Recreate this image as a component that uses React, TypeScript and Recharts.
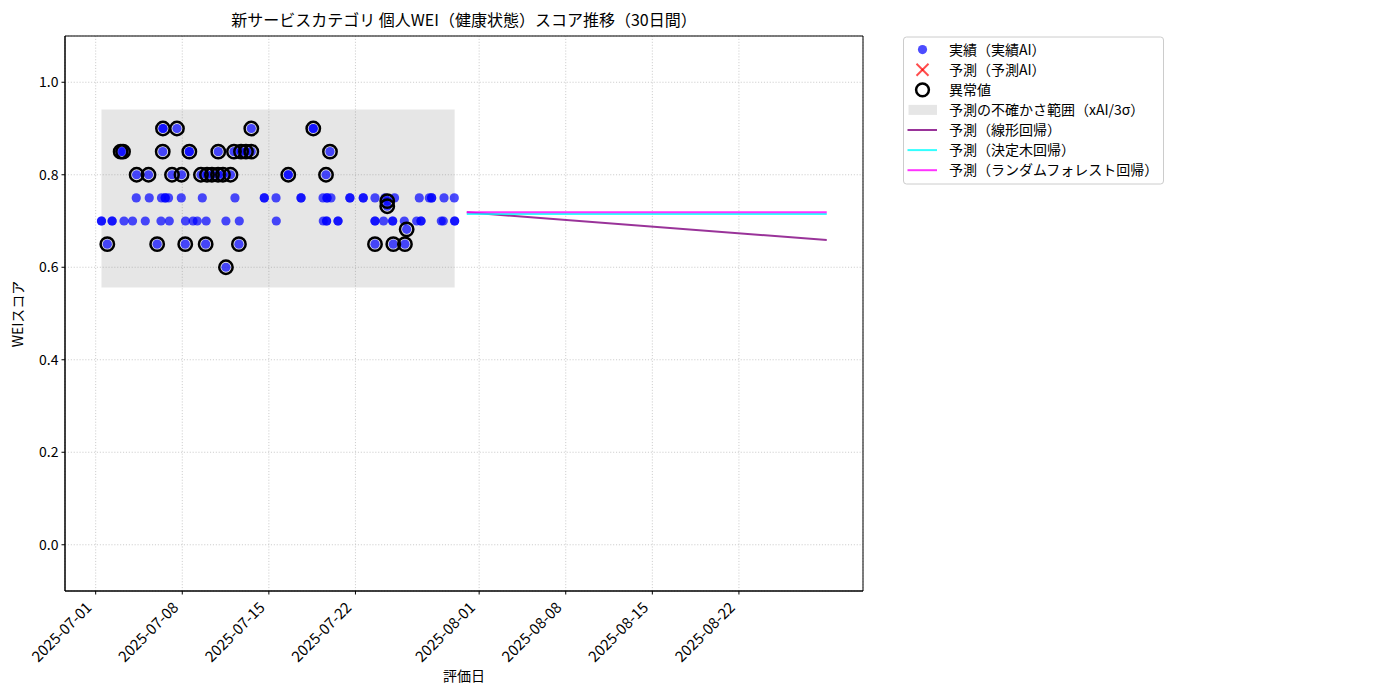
import { CartesianGrid, ComposedChart, Line, ReferenceArea, Scatter, XAxis, YAxis } from "recharts"

const FONT = '"Noto Sans CJK JP", "Noto Sans", sans-serif'

// [days since 2025-07-01, WEI score]; stacked points appear twice
const actual: [number, number][] = [
  [0.47, 0.7], [0.47, 0.7], [0.94, 0.65], [1.33, 0.7], [1.33, 0.7], [2.02, 0.85], [2.21, 0.85],
  [2.29, 0.7], [2.98, 0.7], [3.28, 0.75], [3.31, 0.8], [4.01, 0.7], [4.27, 0.8], [4.33, 0.75],
  [4.97, 0.65], [5.28, 0.7], [5.32, 0.75], [5.42, 0.85], [5.44, 0.9], [5.44, 0.9], [5.62, 0.75],
  [5.62, 0.75], [5.89, 0.75], [5.95, 0.7], [6.17, 0.8], [6.57, 0.9], [6.92, 0.75], [6.94, 0.8],
  [7.24, 0.65], [7.26, 0.7], [7.57, 0.85], [7.57, 0.85], [7.87, 0.7], [8.21, 0.7], [8.51, 0.8],
  [8.62, 0.75], [8.89, 0.65], [8.93, 0.7], [9.0, 0.8], [9.4, 0.8], [9.89, 0.8], [9.91, 0.85],
  [10.29, 0.8], [10.53, 0.6], [10.53, 0.7], [10.9, 0.8], [11.18, 0.85], [11.26, 0.75], [11.58, 0.65],
  [11.61, 0.7], [11.75, 0.85], [12.15, 0.85], [12.58, 0.85], [12.58, 0.9], [13.63, 0.75], [13.63, 0.75],
  [14.58, 0.75], [14.6, 0.7], [15.57, 0.8], [15.57, 0.8], [16.6, 0.75], [16.6, 0.75], [17.59, 0.9],
  [17.59, 0.9], [18.38, 0.75], [18.4, 0.7], [18.62, 0.8], [18.67, 0.7], [18.67, 0.7], [18.7, 0.75],
  [18.7, 0.75], [18.94, 0.85], [19.02, 0.75], [19.59, 0.7], [19.59, 0.7], [20.55, 0.75], [20.55, 0.75],
  [21.63, 0.75], [21.63, 0.75], [22.58, 0.65], [22.58, 0.7], [22.58, 0.7], [22.58, 0.75], [23.27, 0.7],
  [23.39, 0.75], [23.57, 0.743], [23.57, 0.732], [24.01, 0.7], [24.01, 0.7], [24.06, 0.65], [24.16, 0.75],
  [24.95, 0.7], [25.0, 0.65], [25.14, 0.682], [25.95, 0.7], [26.16, 0.75], [26.3, 0.7], [26.3, 0.7],
  [26.97, 0.75], [27.16, 0.75], [27.16, 0.75], [27.94, 0.7], [28.1, 0.7], [28.16, 0.75], [28.99, 0.75],
  [29.02, 0.7], [29.02, 0.7],
]

const outliers: [number, number][] = [
  [0.94, 0.65], [2.02, 0.85], [2.21, 0.85], [3.31, 0.8], [4.27, 0.8], [4.97, 0.65], [5.42, 0.85],
  [5.44, 0.9], [6.17, 0.8], [6.57, 0.9], [6.94, 0.8], [7.24, 0.65], [7.57, 0.85], [8.51, 0.8],
  [8.89, 0.65], [9.0, 0.8], [9.4, 0.8], [9.89, 0.8], [9.91, 0.85], [10.29, 0.8], [10.53, 0.6],
  [10.9, 0.8], [11.18, 0.85], [11.58, 0.65], [11.75, 0.85], [12.15, 0.85], [12.58, 0.85], [12.58, 0.9],
  [15.57, 0.8], [17.59, 0.9], [18.62, 0.8], [18.94, 0.85], [22.58, 0.65], [23.57, 0.743], [23.57, 0.732],
  [24.06, 0.65], [25.0, 0.65], [25.14, 0.682],
]

const forecastDays = [30, 59.1]
const linearForecast = [0.7187, 0.659]
const treeForecast = [0.715, 0.715]
const forestForecast = [0.719, 0.719]

// uncertainty band (xAI / 3σ)
const bandLower = 0.556
const bandUpper = 0.941

const xTickDays = [0, 7, 14, 21, 31, 38, 45, 52]
const xTickLabels = [
  "2025-07-01", "2025-07-08", "2025-07-15", "2025-07-22",
  "2025-08-01", "2025-08-08", "2025-08-15", "2025-08-22",
]
const yTicks = [0, 0.2, 0.4, 0.6, 0.8, 1.0]
const xDomain: [number, number] = [-2.48, 62.03]
const yDomain: [number, number] = [-0.1, 1.1]

const title = "新サービスカテゴリ 個人WEI（健康状態）スコア推移（30日間）"
const legendLabels = [
  "実績（実績AI）",
  "予測（予測AI）",
  "異常値",
  "予測の不確かさ範囲（xAI/3σ）",
  "予測（線形回帰）",
  "予測（決定木回帰）",
  "予測（ランダムフォレスト回帰）",
]

const toPoints = (pairs: [number, number][]) => pairs.map(([x, y]) => ({ x, y }))
const toLine = (values: number[]) => values.map((y, i) => ({ x: forecastDays[i], y }))

const actualDays = actual.map((p) => p[0])

const Dot = (props: any) => (
  <circle cx={props.cx} cy={props.cy} r={4.6} fill="#0000ff" fillOpacity={0.7} />
)

const Ring = (props: any) => (
  <circle cx={props.cx} cy={props.cy} r={6.7} fill="none" stroke="#000" strokeWidth={2.5} />
)

const XTick = (props: any) => {
  const { x, y, payload } = props
  const label = xTickLabels[xTickDays.indexOf(payload.value)]
  const tx = x - 3
  const ty = y + 12
  return (
    <text x={tx} y={ty} textAnchor="end" fontSize={15} fill="#000" fontFamily={FONT}
      transform={`rotate(-45, ${tx}, ${ty})`}>
      {label}
    </text>
  )
}

function Legend() {
  const left = 903.5
  const top = 37
  const rowY = (i: number) => 49.6 + i * 20.1
  const mx = 922.5
  return (
    <g>
      <rect x={left} y={top} width={260} height={147} rx={3} fill="#fff" fillOpacity={0.8} stroke="#cccccc" />
      <circle cx={mx} cy={rowY(0)} r={4.6} fill="#0000ff" fillOpacity={0.7} />
      <g stroke="#ff0000" strokeOpacity={0.7} strokeWidth={2}>
        <line x1={mx - 6} y1={rowY(1) - 6} x2={mx + 6} y2={rowY(1) + 6} />
        <line x1={mx - 6} y1={rowY(1) + 6} x2={mx + 6} y2={rowY(1) - 6} />
      </g>
      <circle cx={mx} cy={rowY(2)} r={6.4} fill="none" stroke="#000" strokeWidth={2.5} />
      <rect x={908.5} y={rowY(3) - 5} width={28.5} height={10} fill="#808080" fillOpacity={0.2} />
      <line x1={907.5} x2={937} y1={rowY(4)} y2={rowY(4)} stroke="#800080" strokeOpacity={0.8} strokeWidth={2} />
      <line x1={907.5} x2={937} y1={rowY(5)} y2={rowY(5)} stroke="#00ffff" strokeOpacity={0.8} strokeWidth={2} />
      <line x1={907.5} x2={937} y1={rowY(6)} y2={rowY(6)} stroke="#ff00ff" strokeOpacity={0.8} strokeWidth={2} />
      {legendLabels.map((t, i) => (
        <text key={t} x={949} y={rowY(i) + 5} fontSize={14} fill="#000">{t}</text>
      ))}
    </g>
  )
}

export default function App() {
  return (
    <div style={{ position: "absolute", left: 0, top: 0, width: 1400, height: 700, background: "#fff", fontFamily: FONT }}>
      <ComposedChart width={1400} height={700} margin={{ top: 36, right: 537, bottom: 0, left: 0 }}>
        <CartesianGrid stroke="#b0b0b0" strokeOpacity={0.8} strokeWidth={0.8} strokeDasharray="1.1 1.8" />
        <XAxis
          type="number"
          dataKey="x"
          domain={xDomain}
          ticks={xTickDays}
          interval={0}
          allowDataOverflow
          height={109}
          tickSize={3.5}
          tickLine={{ stroke: "#000" }}
          axisLine={{ stroke: "#000" }}
          tick={<XTick />}
        />
        <YAxis
          type="number"
          dataKey="y"
          domain={yDomain}
          ticks={yTicks}
          interval={0}
          allowDataOverflow
          width={65}
          tickSize={3.5}
          tickMargin={3}
          tickLine={{ stroke: "#000" }}
          axisLine={{ stroke: "#000" }}
          tick={{ fill: "#000", fontSize: 14, fontFamily: FONT }}
          tickFormatter={(v: number) => v.toFixed(1)}
        />
        <ReferenceArea
          x1={Math.min(...actualDays)}
          x2={Math.max(...actualDays)}
          y1={bandLower}
          y2={bandUpper}
          fill="#808080"
          fillOpacity={0.2}
          stroke="none"
        />
        <Line data={toLine(linearForecast)} dataKey="y" stroke="#800080" strokeOpacity={0.8} strokeWidth={2} dot={false} isAnimationActive={false} />
        <Line data={toLine(treeForecast)} dataKey="y" stroke="#00ffff" strokeOpacity={0.8} strokeWidth={2} dot={false} isAnimationActive={false} />
        <Line data={toLine(forestForecast)} dataKey="y" stroke="#ff00ff" strokeOpacity={0.8} strokeWidth={2} dot={false} isAnimationActive={false} />
        <Scatter data={toPoints(actual)} dataKey="y" shape={<Dot />} isAnimationActive={false} />
        <Scatter data={toPoints(outliers)} dataKey="y" shape={<Ring />} isAnimationActive={false} />
        <ReferenceArea x1={xDomain[0]} x2={xDomain[1]} y1={yDomain[0]} y2={yDomain[1]} fill="none" stroke="#000" strokeWidth={1} />
      </ComposedChart>
      <svg width={1400} height={700} style={{ position: "absolute", left: 0, top: 0, pointerEvents: "none" }} fontFamily={FONT}>
        <text x={464} y={26} textAnchor="middle" fontSize={16} fill="#000">{title}</text>
        <text x={464} y={681} textAnchor="middle" fontSize={14} fill="#000">評価日</text>
        <text transform="translate(23,314) rotate(-90)" textAnchor="middle" fontSize={14} fill="#000">WEIスコア</text>
        <Legend />
      </svg>
    </div>
  )
}
